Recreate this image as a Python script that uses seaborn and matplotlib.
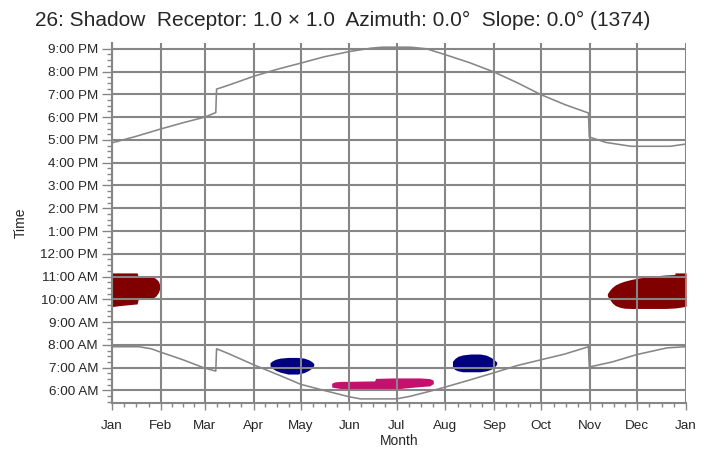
import numpy as np
import pandas as pd
import matplotlib
matplotlib.use("Agg")
import matplotlib.pyplot as plt
import seaborn as sns

# month starts (day of year) and labels
month_days = [0, 31, 59, 90, 120, 151, 181, 212, 243, 273, 304, 334, 365]
month_labels = ['Jan', 'Feb', 'Mar', 'Apr', 'May', 'Jun', 'Jul', 'Aug', 'Sep', 'Oct', 'Nov', 'Dec', 'Jan']
hour_ticks = list(range(6, 22))

# sunset (decimal hours), jumps at DST changes
sunset_day = [0, 15, 31, 45, 59, 66, 66.5, 74, 90, 105, 120, 135, 151, 165, 172, 190, 200, 212,
              227, 243, 258, 273, 288, 303, 303.5, 314, 330, 355, 365]
sunset_hr = [16.87, 17.15, 17.48, 17.75, 18.0, 18.2, 19.23, 19.4, 19.79, 20.1, 20.37, 20.65, 20.88,
             21.03, 21.07, 21.07, 21.0, 20.74, 20.4, 19.98, 19.5, 18.98, 18.55, 18.18, 17.13,
             16.89, 16.72, 16.72, 16.82]

# sunrise
sunrise_day = [0, 17, 25, 31, 45, 59, 66, 66.5, 74, 90, 107, 120, 136, 151, 158, 181, 190, 203,
               212, 227, 243, 258, 273, 288, 303, 303.5, 318, 334, 353, 365]
sunrise_hr = [7.92, 7.92, 7.83, 7.68, 7.35, 6.98, 6.85, 7.83, 7.62, 7.13, 6.65, 6.27, 5.98, 5.72,
              5.63, 5.63, 5.75, 5.98, 6.15, 6.45, 6.78, 7.1, 7.35, 7.6, 7.92, 7.03, 7.25, 7.58,
              7.87, 7.92]

# shadow periods: day, start hour, end hour
jan_day = [0, 4, 16, 16.6, 22, 26, 28, 29.5, 30.3]
jan_lo = [9.68, 9.72, 9.80, 9.99, 10.0, 10.05, 10.15, 10.3, 10.45]
jan_hi = [11.16, 11.16, 11.16, 11.01, 11.0, 11.0, 10.9, 10.8, 10.65]

dec_day = [315, 316.5, 318, 320, 323, 326, 330, 335, 345, 352, 357.9, 358, 362, 365]
dec_lo = [10.15, 10.0, 9.85, 9.73, 9.65, 9.61, 9.6, 9.6, 9.6, 9.6, 9.62, 9.62, 9.66, 9.7]
dec_hi = [10.25, 10.4, 10.52, 10.63, 10.73, 10.8, 10.87, 10.94, 11.03, 11.07, 11.09, 11.16, 11.16, 11.16]

apr_day = [100.5, 102, 104, 107, 112, 118, 122, 125, 127, 128.3]
apr_lo = [7.08, 6.97, 6.88, 6.8, 6.72, 6.72, 6.78, 6.88, 6.98, 7.1]
apr_hi = [7.22, 7.3, 7.37, 7.42, 7.45, 7.45, 7.42, 7.35, 7.27, 7.18]

aug_day = [216.5, 218, 220, 223, 228, 234, 238, 241, 243, 244.6]
aug_lo = [7.02, 6.92, 6.86, 6.82, 6.82, 6.82, 6.86, 6.93, 7.02, 7.15]
aug_hi = [7.28, 7.4, 7.5, 7.56, 7.6, 7.6, 7.55, 7.45, 7.35, 7.25]

jun_day = [139.7, 142, 146, 150, 167, 167.6, 180, 188, 196, 202, 204.3]
jun_lo = [6.15, 6.12, 6.08, 6.05, 6.05, 6.05, 6.06, 6.12, 6.17, 6.2, 6.3]
jun_hi = [6.32, 6.38, 6.40, 6.40, 6.42, 6.53, 6.55, 6.55, 6.55, 6.52, 6.45]

sns.set_style("white")
plt.rcParams['font.family'] = ['Liberation Sans', 'DejaVu Sans']

grey = '#868686'
fig = plt.figure(figsize=(7.16, 4.49), dpi=100)
ax = fig.add_axes([0.1564, 0.1025, 0.8017, 0.8015])

# shadow blobs
for d, lo, hi, c in [(jan_day, jan_lo, jan_hi, '#800000'),
                     (dec_day, dec_lo, dec_hi, '#800000'),
                     (apr_day, apr_lo, apr_hi, '#000080'),
                     (aug_day, aug_lo, aug_hi, '#000080'),
                     (jun_day, jun_lo, jun_hi, '#C3126E')]:
    ax.fill_between(d, lo, hi, color=c, lw=0, zorder=1)

sun = pd.DataFrame({'day': sunset_day, 'hr': sunset_hr})
rise = pd.DataFrame({'day': sunrise_day, 'hr': sunrise_hr})
sns.lineplot(data=sun, x='day', y='hr', estimator=None, sort=False, color=grey, lw=1.15, ax=ax, zorder=3)
sns.lineplot(data=rise, x='day', y='hr', estimator=None, sort=False, color=grey, lw=1.15, ax=ax, zorder=3)

ax.set_xlim(0, 365)
ax.set_ylim(5.45, 21.25)

def hlabel(h):
    hh = h % 12
    if hh == 0:
        hh = 12
    return f"{hh}:00 {'AM' if h < 12 else 'PM'}"

ax.set_yticks(hour_ticks)
ax.set_yticklabels([hlabel(h) for h in hour_ticks])
ax.set_yticks(np.arange(5.5, 21.25, 0.25), minor=True)

ax.set_xticks(month_days)
ax.set_xticklabels(month_labels)
minor_x = []
for a, b in zip(month_days[:-1], month_days[1:]):
    minor_x += [a + (b - a) * f for f in (0.25, 0.5, 0.75)]
ax.set_xticks(minor_x, minor=True)

ax.grid(True, which='major', color=grey, lw=1.5)
ax.set_axisbelow(False)
for gl in ax.get_xgridlines() + ax.get_ygridlines():
    gl.set_zorder(2)

for s in ['top', 'right']:
    ax.spines[s].set_visible(False)
for s in ['left', 'bottom']:
    ax.spines[s].set_color(grey)
    ax.spines[s].set_linewidth(1.5)

ax.tick_params(axis='y', which='major', length=7, width=1, color=grey, labelsize=9.7, pad=3, direction='out', left=True)
ax.tick_params(axis='y', which='minor', length=3.5, width=1, color=grey, left=True)
ax.tick_params(axis='x', which='major', length=5, width=1, color=grey, labelsize=9.7, pad=7.5, direction='out', bottom=True)
ax.tick_params(axis='x', which='minor', length=3, width=1, color=grey, bottom=True)

ax.set_xlabel('Month', fontsize=10, labelpad=1.5)
ax.set_ylabel('Time', fontsize=10, labelpad=9)

fig.text(0.479, 0.955, '26: Shadow  Receptor: 1.0 \u00d7 1.0  Azimuth: 0.0\u00b0  Slope: 0.0\u00b0 (1374)',
         ha='center', va='center', fontsize=15)

fig.savefig('out.png', dpi=100)
